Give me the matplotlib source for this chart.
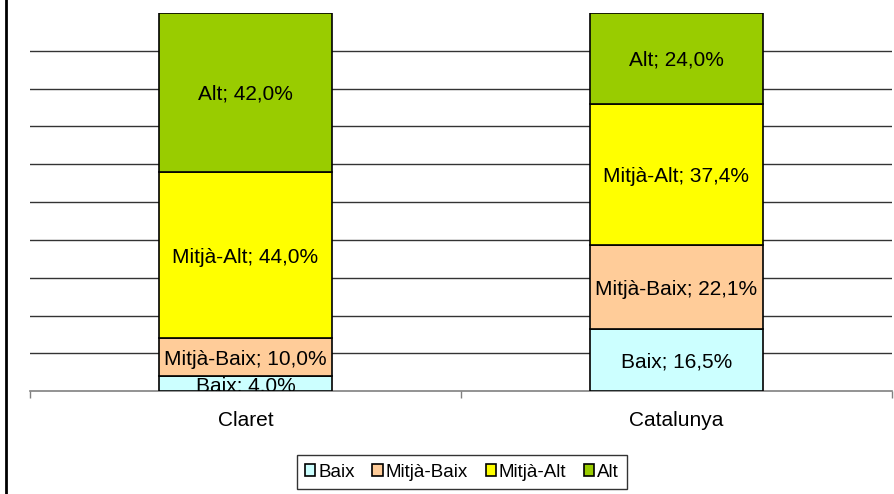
import matplotlib
matplotlib.use("Agg")
import matplotlib.pyplot as plt
from matplotlib.patches import Patch
from matplotlib.lines import Line2D

plt.rcParams['font.family'] = ['Liberation Sans', 'DejaVu Sans']

categories = ["Claret", "Catalunya"]
series = ["Baix", "Mitjà-Baix", "Mitjà-Alt", "Alt"]
baix = [4.0, 16.5]
mitja_baix = [10.0, 22.1]
mitja_alt = [44.0, 37.4]
alt = [42.0, 24.0]
colors = ["#CCFFFF", "#FFCC99", "#FFFF00", "#99CC00"]

values = [baix, mitja_baix, mitja_alt, alt]

W, H = 895, 494
fig = plt.figure(figsize=(W / 100, H / 100), dpi=100)
ax = fig.add_axes([30 / W, (H - 391.3) / H, (892 - 30) / W, (391.3 - 13) / H])

x = list(range(len(categories)))
bottoms = [0.0] * len(categories)
for name, vals, col in zip(series, values, colors):
    ax.bar(x, vals, width=0.40, bottom=bottoms, color=col, edgecolor="black",
           linewidth=1.2, zorder=3)
    for i, v in enumerate(vals):
        yc = bottoms[i] + v / 2
        label = f"{name}; {v:.1f}%".replace(".", ",")
        ax.text(x[i], yc, label, ha="center", va="center_baseline", fontsize=15,
                color="black", zorder=4, clip_on=True)
    bottoms = [b + v for b, v in zip(bottoms, vals)]

ax.set_xlim(-0.5, len(categories) - 0.5)
ax.set_ylim(0, 100)
ax.set_yticks([10, 20, 30, 40, 50, 60, 70, 80, 90])
ax.yaxis.grid(True, color="#333333", linewidth=1.0, zorder=0)
ax.set_axisbelow(True)
ax.tick_params(axis="y", left=False, labelleft=False)

ax.set_xticks(x)
ax.set_xticklabels(categories, fontsize=15)
ax.tick_params(axis="x", which="major", length=0, pad=14)
ax.set_xticks([-0.5, 0.5, 1.5], minor=True)
ax.tick_params(axis="x", which="minor", length=5, color="#808080", width=1)

for s in ["top", "right", "left"]:
    ax.spines[s].set_visible(False)
ax.spines["bottom"].set_color("#808080")
ax.spines["bottom"].set_linewidth(1.2)

handles = [Patch(facecolor=c, edgecolor="black", linewidth=1.2) for c in colors]
leg = fig.legend(handles, series, loc="center", bbox_to_anchor=(462 / W, 1 - 472 / H),
                 ncol=4, frameon=True, fontsize=13.5, handlelength=0.55, handleheight=0.55,
                 handletextpad=0.15, columnspacing=0.95, borderpad=0.45, fancybox=False)
leg.get_frame().set_edgecolor("black")
leg.get_frame().set_linewidth(1.0)

fig.add_artist(Line2D([6 / W, 6 / W], [0, 1], color="black", linewidth=2,
                      transform=fig.transFigure))

fig.savefig("out.png", dpi=100)
